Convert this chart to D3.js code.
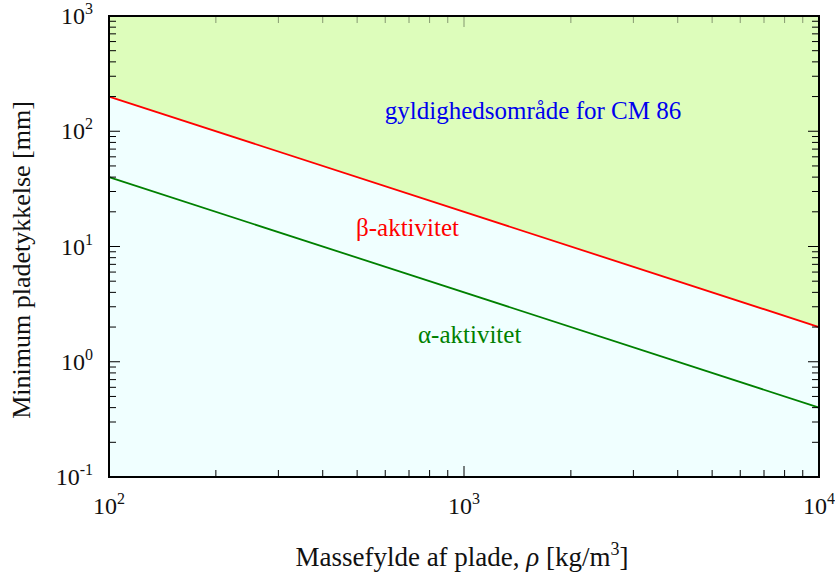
<!DOCTYPE html>
<html>
<head>
<meta charset="utf-8">
<script src="https://cdn.jsdelivr.net/npm/d3@7"></script>
<style>
  body { margin: 0; background: #fff; }
  text { font-family: "Liberation Serif", "Times New Roman", serif; }
</style>
</head>
<body>
<svg width="835" height="576"></svg>
<script>
// data
var density = [100, 10000];            // kg/m3
var betaLimit = [200, 2];              // mm
var alphaLimit = [40, 0.4];            // mm
var xDecades = [2, 3, 4];
var yDecades = [-1, 0, 1, 2, 3];

var width = 835, height = 576;
var m = {left: 109, right: 819, top: 16, bottom: 477};

var svg = d3.select("svg");

var x = d3.scaleLog().domain([100, 10000]).range([m.left, m.right]);
var y = d3.scaleLog().domain([0.1, 1000]).range([m.bottom, m.top]);

var beta = density.map(function(d, i) { return [d, betaLimit[i]]; });
var alpha = density.map(function(d, i) { return [d, alphaLimit[i]]; });

// background below the beta line
svg.append("rect")
  .attr("x", m.left).attr("y", m.top)
  .attr("width", m.right - m.left).attr("height", m.bottom - m.top)
  .attr("fill", "#f0ffff");

// valid area above beta line
var area = d3.area()
  .x(function(d) { return x(d[0]); })
  .y0(y(1000))
  .y1(function(d) { return y(d[1]); });
svg.append("path").datum(beta)
  .attr("d", area)
  .attr("fill", "#ddfdbb");

var line = d3.line()
  .x(function(d) { return x(d[0]); })
  .y(function(d) { return y(d[1]); });

svg.append("path").datum(beta)
  .attr("d", line).attr("fill", "none")
  .attr("stroke", "#ff0000").attr("stroke-width", 1.8);

svg.append("path").datum(alpha)
  .attr("d", line).attr("fill", "none")
  .attr("stroke", "#008000").attr("stroke-width", 1.8);

// ticks on all four sides, pointing inward
var xTicks = x.ticks();
var yTicks = y.ticks();
function isMajor(v) { return Math.abs(Math.log10(v) - Math.round(Math.log10(v))) < 1e-9; }

var ticks = svg.append("g").attr("stroke", "#000").attr("stroke-width", 1);
xTicks.forEach(function(v) {
  var len = isMajor(v) ? 11 : 7;
  ticks.append("line").attr("x1", x(v)).attr("x2", x(v)).attr("y1", m.bottom).attr("y2", m.bottom - len);
  ticks.append("line").attr("x1", x(v)).attr("x2", x(v)).attr("y1", m.top).attr("y2", m.top + len)
    .attr("stroke-opacity", 0.4);
});
yTicks.forEach(function(v) {
  var len = isMajor(v) ? 11 : 7;
  ticks.append("line").attr("y1", y(v)).attr("y2", y(v)).attr("x1", m.left).attr("x2", m.left + len);
  ticks.append("line").attr("y1", y(v)).attr("y2", y(v)).attr("x1", m.right).attr("x2", m.right - len);
});

// frame
svg.append("rect")
  .attr("x", m.left).attr("y", m.top)
  .attr("width", m.right - m.left).attr("height", m.bottom - m.top)
  .attr("fill", "none").attr("stroke", "#000").attr("stroke-width", 2);

// tick labels
function powLabel(sel, e) {
  sel.append("tspan").text("10");
  sel.append("tspan").attr("dy", -10).attr("font-size", 16).text(e);
}
yDecades.forEach(function(e) {
  var t = svg.append("text")
    .attr("x", m.left - 16).attr("y", y(Math.pow(10, e)) + 8)
    .attr("text-anchor", "end").attr("font-size", 24).attr("fill", "#111");
  powLabel(t, e);
});
xDecades.forEach(function(e) {
  var t = svg.append("text")
    .attr("x", x(Math.pow(10, e))).attr("y", 514)
    .attr("text-anchor", "middle").attr("font-size", 24).attr("fill", "#111");
  powLabel(t, e);
});

// axis titles
var xt = svg.append("text")
  .attr("x", 462).attr("y", 566)
  .attr("text-anchor", "middle").attr("font-size", 27).attr("fill", "#111");
xt.append("tspan").text("Massefylde af plade, ");
xt.append("tspan").attr("font-style", "italic").text("ρ");
xt.append("tspan").text(" [kg/m");
xt.append("tspan").attr("dy", -11).attr("font-size", 18).text("3");
xt.append("tspan").attr("dy", 11).text("]");

svg.append("text")
  .attr("transform", "translate(30,260) rotate(-90)")
  .attr("text-anchor", "middle").attr("font-size", 26).attr("fill", "#111")
  .text("Minimum pladetykkelse [mm]");

// annotations
svg.append("text")
  .attr("x", 533).attr("y", 119)
  .attr("text-anchor", "middle").attr("font-size", 25).attr("fill", "#0000ee")
  .text("gyldighedsområde for CM 86");
svg.append("text")
  .attr("x", 356).attr("y", 236)
  .attr("font-size", 25).attr("fill", "#ff0000")
  .text("β-aktivitet");
svg.append("text")
  .attr("x", 418).attr("y", 343)
  .attr("font-size", 25).attr("fill", "#008000")
  .text("α-aktivitet");
</script>
</body>
</html>
